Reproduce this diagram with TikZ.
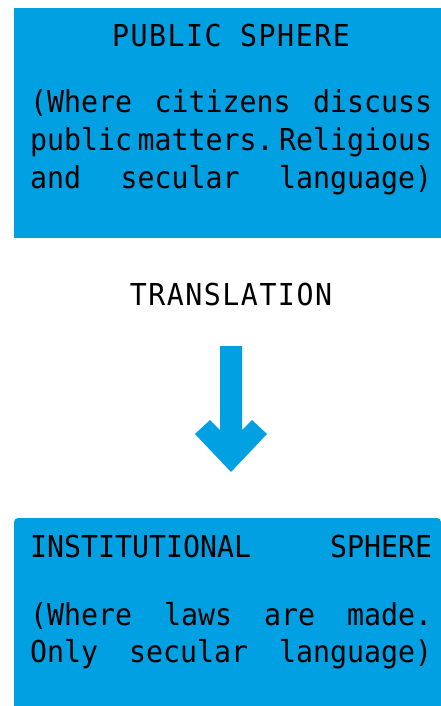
\documentclass[tikz,border=0pt]{standalone}
\usepackage{fontspec}
\setmonofont[FakeStretch=0.935]{DejaVu Sans Mono}
\definecolor{sphereblue}{RGB}{0,160,227}
\newcommand\jline[1]{\hbox to 402pt{\spaceskip=0pt plus 1fil\relax\xspaceskip=0pt plus 1fil\relax #1}}
\tikzset{
  monotxt/.style={font=\ttfamily\fontsize{30.2pt}{36pt}\selectfont, inner sep=0pt, text=black},
  jtxt/.style={monotxt, anchor=base west},
  ctxt/.style={font=\ttfamily\fontsize{30.2pt}{36pt}\selectfont\addfontfeature{LetterSpace=5}, inner sep=0pt, text=black, anchor=base},
}
\begin{document}
\begin{tikzpicture}[x=1pt,y=-1pt]
  \useasboundingbox (0,0) rectangle (441,706);
  % boxes
  \fill[sphereblue] (14,8) rectangle (441,238);
  \fill[sphereblue, rounded corners=4pt] (14,706) -- (14,518) -- (441,518) [sharp corners] -- (441,706) -- cycle;
  % top texts
  \node[ctxt] (pubtitle) at (231,47) {PUBLIC SPHERE};
  \node[jtxt] (pub1) at (30,113) {\jline{(Where citizens discuss}};
  \node[jtxt] (pub2) at (30,150) {\jline{public matters. Religious}};
  \node[jtxt] (pub3) at (30,188) {\jline{and secular language)}};
  % translation
  \node[ctxt] (trans) at (231,305) {TRANSLATION};
  % arrow
  \fill[sphereblue] (220,346) -- (242,346) -- (242,430) -- (252,420) -- (267,434) -- (231,472) -- (195,434) -- (210,420) -- (220,430) -- cycle;
  % bottom texts
  \node[jtxt] (inst0) at (30,557) {\jline{INSTITUTIONAL SPHERE}};
  \node[jtxt] (inst1) at (30,625) {\jline{(Where laws are made.}};
  \node[jtxt] (inst2) at (30,662) {\jline{Only secular language)}};
\end{tikzpicture}
\end{document}
